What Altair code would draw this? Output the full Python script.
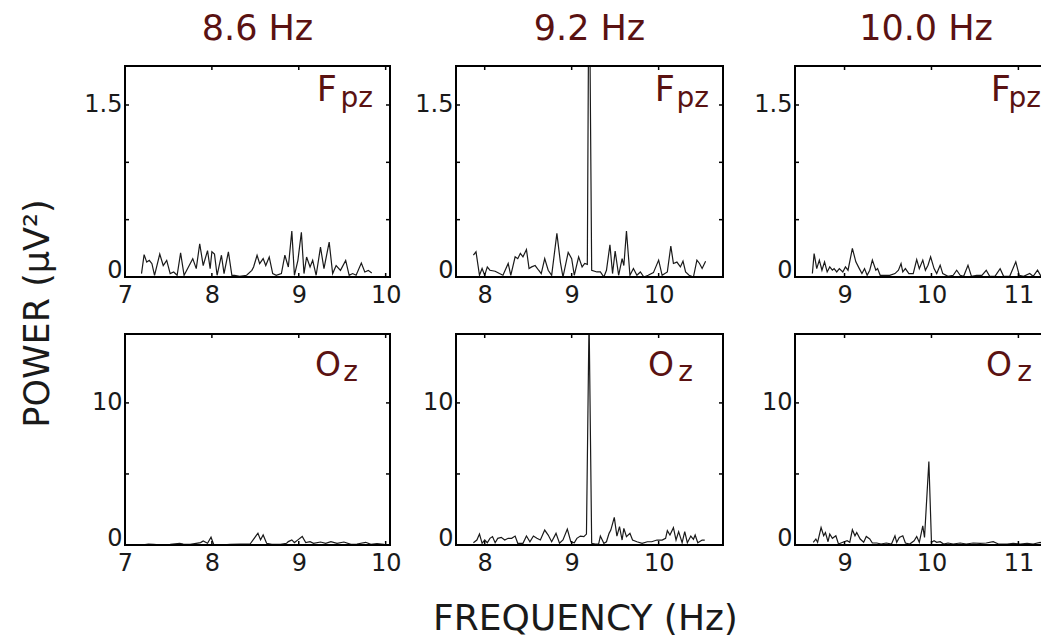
import altair as alt
import pandas as pd

FONT = "DejaVu Sans"
MAROON = "#5a1212"
INK = "#1a1a1a"

column_titles = ["8.6 Hz", "9.2 Hz", "10.0 Hz"]
y_title = "POWER (\u03bcV\u00b2)"
x_title = "FREQUENCY (Hz)"

# ---- Fpz spectra ----
fpz_86_freq = [7.19, 7.22, 7.25, 7.28, 7.31, 7.34, 7.40, 7.44, 7.48, 7.52, 7.56, 7.60,
               7.64, 7.68, 7.73, 7.78, 7.82, 7.86, 7.90, 7.95, 7.98, 8.00, 8.03, 8.06,
               8.11, 8.14, 8.19, 8.23, 8.26, 8.32, 8.40, 8.46, 8.48, 8.52, 8.55, 8.59,
               8.62, 8.66, 8.70, 8.74, 8.80, 8.84, 8.88, 8.92, 8.95, 8.99, 9.03, 9.06,
               9.09, 9.13, 9.16, 9.20, 9.25, 9.29, 9.35, 9.39, 9.43, 9.48, 9.54, 9.58,
               9.62, 9.66, 9.72, 9.76, 9.80, 9.84]
fpz_86_pow = [0.03, 0.195, 0.13, 0.145, 0.116, 0.015, 0.20, 0.10, 0.145, 0.03, 0.044, 0.015,
              0.21, 0.015, 0.087, 0.16, 0.073, 0.29, 0.10, 0.23, 0.073, 0.22, 0.20, 0.015,
              0.19, 0.03, 0.22, 0.015, 0.015, 0.006, 0.015, 0.058, 0.087, 0.19, 0.116, 0.16,
              0.10, 0.174, 0.03, 0.015, 0.03, 0.19, 0.087, 0.40, 0.015, 0.145, 0.39, 0.03,
              0.174, 0.087, 0.145, 0.015, 0.26, 0.073, 0.305, 0.03, 0.10, 0.058, 0.145, 0.015,
              0.03, 0.015, 0.122, 0.044, 0.058, 0.035]

fpz_92_freq = [7.87, 7.90, 7.94, 7.97, 8.00, 8.03, 8.06, 8.12, 8.17, 8.21, 8.27, 8.30,
               8.35, 8.38, 8.41, 8.44, 8.48, 8.51, 8.54, 8.58, 8.62, 8.65, 8.69, 8.73,
               8.77, 8.83, 8.87, 8.90, 8.96, 9.00, 9.03, 9.08, 9.12, 9.15, 9.18, 9.20,
               9.23, 9.29, 9.33, 9.37, 9.40, 9.44, 9.47, 9.50, 9.54, 9.58, 9.60, 9.63,
               9.67, 9.71, 9.75, 9.79, 9.83, 9.88, 9.94, 10.00, 10.04, 10.10, 10.14, 10.17,
               10.21, 10.25, 10.28, 10.31, 10.35, 10.40, 10.44, 10.47, 10.50, 10.54]
fpz_92_pow = [0.19, 0.22, 0.015, 0.074, 0.015, 0.088, 0.059, 0.05, 0.03, 0.015, 0.118, 0.015,
              0.176, 0.16, 0.206, 0.176, 0.24, 0.074, 0.088, 0.10, 0.059, 0.03, 0.16, 0.059,
              0.015, 0.38, 0.13, 0.0, 0.215, 0.16, 0.015, 0.176, 0.088, 0.118, 0.11, 3.0,
              0.059, 0.044, 0.044, 0.0, 0.059, 0.28, 0.03, 0.226, 0.015, 0.16, 0.10, 0.40,
              0.015, 0.074, 0.015, 0.044, 0.0, 0.015, 0.038, 0.147, 0.015, 0.044, 0.27, 0.118,
              0.13, 0.088, 0.138, 0.044, 0.015, 0.0, 0.147, 0.118, 0.074, 0.138]

fpz_100_freq = [8.63, 8.65, 8.68, 8.71, 8.74, 8.77, 8.80, 8.83, 8.86, 8.88, 8.91, 8.94,
                8.98, 9.01, 9.04, 9.09, 9.13, 9.17, 9.20, 9.23, 9.26, 9.29, 9.32, 9.36,
                9.38, 9.41, 9.46, 9.52, 9.58, 9.62, 9.65, 9.67, 9.70, 9.74, 9.79, 9.83,
                9.86, 9.90, 9.93, 9.96, 9.99, 10.03, 10.06, 10.10, 10.13, 10.19, 10.25, 10.29,
                10.33, 10.37, 10.42, 10.46, 10.52, 10.58, 10.63, 10.67, 10.73, 10.79, 10.83, 10.90,
                10.97, 11.01, 11.06, 11.13, 11.17, 11.22, 11.26, 11.33, 11.38]
fpz_100_pow = [0.03, 0.205, 0.073, 0.147, 0.059, 0.132, 0.044, 0.088, 0.059, 0.073, 0.044, 0.073,
               0.044, 0.088, 0.059, 0.25, 0.132, 0.073, 0.03, 0.073, 0.015, 0.059, 0.147, 0.059,
               0.073, 0.015, 0.015, 0.015, 0.03, 0.059, 0.117, 0.044, 0.073, 0.03, 0.03, 0.152,
               0.073, 0.147, 0.059, 0.103, 0.176, 0.073, 0.03, 0.103, 0.03, 0.006, 0.015, 0.059,
               0.015, 0.006, 0.103, 0.006, 0.015, 0.015, 0.059, 0.006, 0.006, 0.073, 0.006, 0.006,
               0.132, 0.015, 0.006, 0.03, 0.006, 0.059, 0.006, 0.015, 0.006]

# ---- Oz spectra ----
oz_86_freq = [7.19, 7.27, 7.33, 7.42, 7.52, 7.63, 7.67, 7.75, 7.87, 7.90, 7.95, 7.99,
              8.02, 8.10, 8.21, 8.33, 8.44, 8.53, 8.56, 8.59, 8.63, 8.69, 8.79, 8.86,
              8.88, 8.92, 8.95, 8.99, 9.04, 9.08, 9.13, 9.17, 9.25, 9.31, 9.37, 9.44,
              9.52, 9.60, 9.67, 9.77, 9.83, 9.90, 9.98]
oz_86_pow = [0.0, 0.07, 0.05, 0.0, 0.05, 0.12, 0.07, 0.05, 0.17, 0.29, 0.12, 0.55,
             0.05, 0.0, 0.05, 0.07, 0.07, 0.83, 0.36, 0.71, 0.12, 0.05, 0.05, 0.12,
             0.24, 0.36, 0.17, 0.36, 0.6, 0.17, 0.24, 0.12, 0.21, 0.12, 0.24, 0.12,
             0.21, 0.05, 0.07, 0.19, 0.05, 0.1, 0.05]

oz_92_freq = [7.87, 7.91, 7.94, 7.97, 8.00, 8.03, 8.06, 8.09, 8.12, 8.15, 8.19, 8.23,
              8.27, 8.31, 8.35, 8.38, 8.44, 8.48, 8.52, 8.56, 8.60, 8.64, 8.69, 8.73,
              8.77, 8.82, 8.86, 8.90, 8.95, 8.99, 9.03, 9.06, 9.10, 9.14, 9.17, 9.20,
              9.23, 9.27, 9.31, 9.33, 9.37, 9.40, 9.43, 9.45, 9.49, 9.52, 9.55, 9.58,
              9.60, 9.63, 9.67, 9.70, 9.75, 9.81, 9.87, 9.92, 9.98, 10.04, 10.08, 10.10,
              10.13, 10.17, 10.20, 10.23, 10.27, 10.30, 10.33, 10.37, 10.40, 10.42, 10.45, 10.50,
              10.53]
oz_92_pow = [0.16, 0.35, 0.77, 0.12, 0.35, 0.16, 0.47, 0.59, 0.16, 0.47, 0.54, 0.35,
             0.47, 0.47, 0.63, 0.12, 0.12, 0.63, 0.23, 0.63, 0.47, 0.35, 1.05, 0.70,
             0.23, 0.82, 0.12, 0.35, 1.12, 0.23, 0.16, 0.47, 0.63, 0.59, 0.77, 16.0,
             0.12, 0.07, 0.07, 0.63, 0.12, 0.23, 0.82, 1.05, 1.94, 0.63, 1.29, 0.35,
             1.17, 0.59, 0.82, 0.35, 0.23, 0.12, 0.23, 0.23, 0.35, 0.35, 0.47, 1.01,
             0.70, 1.22, 0.35, 0.94, 0.16, 0.94, 0.16, 0.63, 0.40, 0.70, 0.16, 0.35,
             0.35]

oz_100_freq = [8.64, 8.67, 8.69, 8.73, 8.76, 8.78, 8.81, 8.83, 8.86, 8.90, 8.93, 8.98,
               9.03, 9.06, 9.09, 9.12, 9.14, 9.18, 9.22, 9.25, 9.29, 9.32, 9.37, 9.42,
               9.48, 9.54, 9.58, 9.60, 9.63, 9.67, 9.70, 9.75, 9.80, 9.83, 9.86, 9.90,
               9.92, 9.97, 10.00, 10.03, 10.06, 10.10, 10.14, 10.19, 10.25, 10.33, 10.40, 10.48,
               10.56, 10.63, 10.71, 10.77, 10.87, 10.94, 11.02, 11.10, 11.17, 11.25, 11.33, 11.40]
oz_100_pow = [0.19, 0.42, 0.19, 1.23, 0.65, 0.88, 0.23, 0.77, 0.47, 0.65, 0.07, 0.19,
              0.30, 0.19, 1.07, 0.65, 0.88, 0.42, 0.19, 0.60, 0.42, 0.14, 0.14, 0.07,
              0.14, 0.07, 0.65, 0.19, 0.53, 0.65, 0.14, 0.07, 0.30, 0.60, 0.19, 1.35,
              0.53, 5.88, 0.19, 0.30, 0.19, 0.23, 0.07, 0.14, 0.07, 0.14, 0.07, 0.14,
              0.12, 0.14, 0.23, 0.07, 0.07, 0.12, 0.07, 0.12, 0.07, 0.19, 0.07, 0.09]

# axis settings (ranges / tick values)
x_domains = [[7.0, 10.05], [7.67, 10.74], [8.43, 11.26]]
x_tick_labels = [[7, 8, 9, 10], [8, 9, 10], [9, 10, 11]]
fpz_y_domain = [0, 1.84]
fpz_y_labels = [0, 1.5]
fpz_y_ticks = [0.5, 1.0, 1.5]
oz_y_domain = [0, 14.85]
oz_y_labels = [0, 10]
oz_y_ticks = [5, 10]

H = 211
WIDTHS = [265, 267, 246]
Y_EXTENT = [42, 42, 57]
TITLE_DX = [0, 0, 8]
ONE = pd.DataFrame({"a": [0]})
LABEL_EXPR = "'' + datum.value"


def panel(freq, power, col, ydom, ylab, yticks, elec_main, elec_sub, pos, title=None):
    W = WIDTHS[col]
    right_border = col < 2
    xs = alt.Scale(domain=x_domains[col], nice=False, zero=False)
    ys = alt.Scale(domain=ydom, nice=False, zero=False)
    df = pd.DataFrame({"f": freq, "p": power})
    xaxis = alt.Axis(values=x_tick_labels[col], title=None, grid=False, domain=False,
                     ticks=False, tickSize=0, labelPadding=6, labelFontSize=24,
                     labelFont=FONT, labelColor=INK, minExtent=30, maxExtent=30,
                     labelFlush=False, labelOverlap=False, labelExpr=LABEL_EXPR)
    yaxis = alt.Axis(values=ylab, title=None, grid=False, domain=False, ticks=False,
                     tickSize=0, labelPadding=3, labelFontSize=24, labelFont=FONT,
                     labelColor=INK, minExtent=Y_EXTENT[col], maxExtent=Y_EXTENT[col],
                     labelExpr=LABEL_EXPR, labelOverlap=False,
                     labelBaseline={"condition": {"test": "datum.value === 0", "value": "alphabetic"},
                                    "value": "middle"})
    line = alt.Chart(df).mark_line(clip=True, color=INK, strokeWidth=1.2).encode(
        x=alt.X("f:Q", scale=xs, axis=xaxis),
        y=alt.Y("p:Q", scale=ys, axis=yaxis),
    )
    xt = pd.DataFrame({"v": x_tick_labels[col]})
    yt = pd.DataFrame({"v": yticks})
    tk = dict(color="black", strokeWidth=1.5)
    layers = [line]
    layers.append(alt.Chart(xt).mark_rule(**tk).encode(
        x=alt.X("v:Q", scale=xs, axis=xaxis), y=alt.value(0), y2=alt.value(4)))
    layers.append(alt.Chart(xt).mark_rule(**tk).encode(
        x=alt.X("v:Q", scale=xs, axis=xaxis), y=alt.value(H - 4), y2=alt.value(H)))
    layers.append(alt.Chart(yt).mark_rule(**tk).encode(
        y=alt.Y("v:Q", scale=ys, axis=yaxis), x=alt.value(0), x2=alt.value(4)))
    if right_border:
        layers.append(alt.Chart(yt).mark_rule(**tk).encode(
            y=alt.Y("v:Q", scale=ys, axis=yaxis), x=alt.value(W - 4), x2=alt.value(W)))
    bd = dict(color="black", strokeWidth=2)
    layers.append(alt.Chart(ONE).mark_rule(**bd).encode(
        x=alt.value(0), y=alt.value(0), y2=alt.value(H)))
    layers.append(alt.Chart(ONE).mark_rule(**bd).encode(
        x=alt.value(-1), x2=alt.value(W + (1 if right_border else 0)), y=alt.value(0)))
    layers.append(alt.Chart(ONE).mark_rule(**bd).encode(
        x=alt.value(-1), x2=alt.value(W + (1 if right_border else 0)), y=alt.value(H)))
    if right_border:
        layers.append(alt.Chart(ONE).mark_rule(**bd).encode(
            x=alt.value(W), y=alt.value(0), y2=alt.value(H)))
    # electrode label with subscript
    (mx, my, ms), (sx, sy, ss) = pos
    layers.append(alt.Chart(ONE).mark_text(text=elec_main, font=FONT, fontSize=ms, color=MAROON,
                                           align="right", baseline="alphabetic").encode(
        x=alt.value(mx), y=alt.value(my)))
    layers.append(alt.Chart(ONE).mark_text(text=elec_sub, font=FONT, fontSize=ss, color=MAROON,
                                           align="right", baseline="alphabetic").encode(
        x=alt.value(sx), y=alt.value(sy)))
    ch = alt.layer(*layers).properties(width=W, height=H)
    if title is not None:
        ch = ch.properties(title=alt.TitleParams(title, fontSize=35, font=FONT, color=MAROON,
                                                 fontWeight="normal", anchor="middle",
                                                 frame="group", baseline="alphabetic",
                                                 offset=-10, dx=TITLE_DX[col]))
    return ch


fpz_pos = [((212, 35, 35), (248, 41, 28)), ((219, 35, 35), (253, 41, 28)), ((216, 35, 35), (246, 41, 28))]
oz_pos = [((216, 42, 33), (233, 47, 28)), ((218, 42, 33), (237, 47, 28)), ((217, 42, 33), (237, 47, 28))]

p1 = panel(fpz_86_freq, fpz_86_pow, 0, fpz_y_domain, fpz_y_labels, fpz_y_ticks, "F", "pz", fpz_pos[0], column_titles[0])
p2 = panel(fpz_92_freq, fpz_92_pow, 1, fpz_y_domain, fpz_y_labels, fpz_y_ticks, "F", "pz", fpz_pos[1], column_titles[1])
p3 = panel(fpz_100_freq, fpz_100_pow, 2, fpz_y_domain, fpz_y_labels, fpz_y_ticks, "F", "pz", fpz_pos[2], column_titles[2])
p4 = panel(oz_86_freq, oz_86_pow, 0, oz_y_domain, oz_y_labels, oz_y_ticks, "O", "z", oz_pos[0])
p5 = panel(oz_92_freq, oz_92_pow, 1, oz_y_domain, oz_y_labels, oz_y_ticks, "O", "z", oz_pos[1])
p6 = panel(oz_100_freq, oz_100_pow, 2, oz_y_domain, oz_y_labels, oz_y_ticks, "O", "z", oz_pos[2])

row1 = alt.hconcat(p1, p2, p3, spacing=13)
row2 = alt.hconcat(p4, p5, p6, spacing=13)
rows = alt.vconcat(row1, row2, spacing=26).properties(
    title=alt.TitleParams(y_title, orient="left", anchor="middle", fontSize=35, font=FONT,
                          color=INK, fontWeight="normal", baseline="alphabetic", offset=-1,
                          dx=-20)
)
chart = alt.vconcat(rows).properties(
    title=alt.TitleParams(x_title, orient="bottom", anchor="middle", fontSize=36, font=FONT,
                          color=INK, fontWeight="normal", baseline="alphabetic", offset=55,
                          dx=54),
    padding={"left": 12, "top": 4, "right": 0, "bottom": 0},
).configure_view(stroke=None)

chart.save("out.html", embed_options={"renderer": "svg", "actions": False})
